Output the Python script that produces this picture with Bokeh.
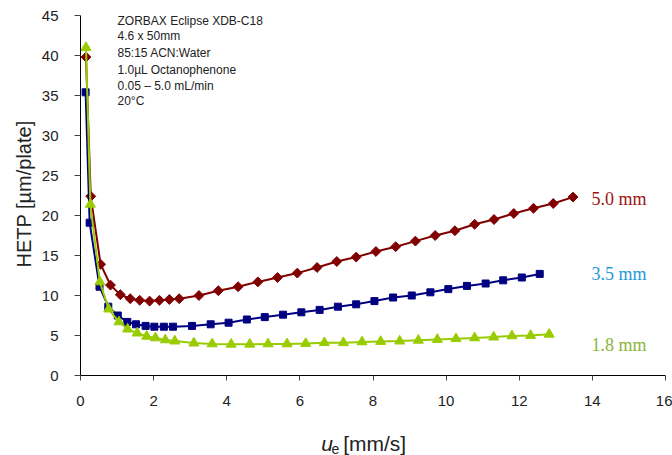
from bokeh.plotting import figure
from bokeh.models import Label, Range1d, FixedTicker
from bokeh.embed import file_html
from bokeh.resources import INLINE
import numpy as np

# --- data ---
x_50 = [0.15, 0.28, 0.55, 0.82, 1.09, 1.36, 1.62, 1.89, 2.16, 2.43, 2.70, 3.24, 3.77, 4.31,
        4.85, 5.39, 5.93, 6.47, 7.01, 7.54, 8.08, 8.62, 9.16, 9.70, 10.24, 10.78, 11.31,
        11.85, 12.39, 12.93, 13.47]
y_50 = [39.8, 22.4, 13.9, 11.3, 10.1, 9.6, 9.4, 9.3, 9.4, 9.5, 9.6, 10.0, 10.6, 11.1,
        11.7, 12.25, 12.8, 13.5, 14.25, 14.8, 15.5, 16.1, 16.8, 17.5, 18.1, 18.9, 19.5,
        20.25, 20.9, 21.5, 22.3]

x_35 = [0.14, 0.25, 0.52, 0.76, 1.02, 1.28, 1.52, 1.78, 2.02, 2.28, 2.53, 3.05, 3.56, 4.05,
        4.55, 5.04, 5.54, 6.04, 6.54, 7.04, 7.54, 8.04, 8.55, 9.06, 9.57, 10.06, 10.57,
        11.08, 11.56, 12.07, 12.56]
y_35 = [35.4, 19.1, 11.1, 8.6, 7.5, 6.7, 6.4, 6.2, 6.1, 6.1, 6.1, 6.2, 6.4, 6.6,
        7.0, 7.3, 7.6, 7.9, 8.2, 8.6, 8.9, 9.3, 9.75, 10.0, 10.4, 10.8, 11.2,
        11.5, 11.9, 12.25, 12.7]

x_18 = [0.15, 0.27, 0.53, 0.77, 1.05, 1.29, 1.55, 1.81, 2.05, 2.32, 2.58, 3.10, 3.60, 4.12,
        4.63, 5.13, 5.65, 6.16, 6.67, 7.19, 7.70, 8.21, 8.73, 9.24, 9.76, 10.27, 10.78,
        11.30, 11.80, 12.31, 12.82]
y_18 = [41.0, 21.4, 11.7, 8.3, 6.7, 5.8, 5.3, 4.9, 4.7, 4.45, 4.3, 4.05, 3.95, 3.9,
        3.9, 3.95, 3.95, 4.0, 4.1, 4.1, 4.2, 4.25, 4.3, 4.4, 4.5, 4.6, 4.7,
        4.8, 4.95, 5.0, 5.15]

series_names = ["5.0 mm", "3.5 mm", "1.8 mm"]
x_ticks = [0, 2, 4, 6, 8, 10, 12, 14, 16]
y_ticks = [0, 5, 10, 15, 20, 25, 30, 35, 40, 45]
note_lines = ["ZORBAX Eclipse XDB-C18", "4.6 x 50mm", "85:15 ACN:Water",
              "1.0\u00b5L Octanophenone", "0.05 \u2013 5.0 mL/min", "20\u00b0C"]

SANS = "Liberation Sans, Arial, sans-serif"
SERIF = "Liberation Serif, Times New Roman, serif"
TXT = "#222222"

# the frame fills the whole canvas; axes are pinned at 0 so that every text stays inside it
W, H = 672, 455
X0PX, X1PX = 80.0, 665.0      # pixel positions of x=0 and x=16
Y0PX, Y1PX = 375.0, 15.0      # pixel positions of y=0 and y=45
sx = (X1PX - X0PX) / 16.0
sy = (Y0PX - Y1PX) / 45.0
x_lo, x_hi = -X0PX / sx, 16 + (W - X1PX) / sx
y_lo, y_hi = -(H - Y0PX) / sy, 45 + Y1PX / sy

def dx(px):
    return (px - X0PX) / sx

def dy(px):
    return (Y0PX - px) / sy

p = figure(width=W, height=H, output_backend="svg", toolbar_location=None,
           x_range=Range1d(x_lo, x_hi), y_range=Range1d(y_lo, y_hi),
           min_border_left=0, min_border_right=0, min_border_top=0, min_border_bottom=0)
p.outline_line_color = None
p.xgrid.visible = False
p.ygrid.visible = False
p.background_fill_color = "white"
p.border_fill_color = "white"

for ax in (p.xaxis, p.yaxis):
    ax.fixed_location = 0
    ax.axis_line_color = "black"
    ax.axis_line_width = 1
    ax.major_tick_line_color = "#444444"
    ax.major_tick_in = 0
    ax.minor_tick_line_color = None
    ax.major_label_text_font = SANS
    ax.major_label_text_font_size = "15px"
    ax.major_label_text_color = TXT

p.xaxis.bounds = (0, 16)
p.yaxis.bounds = (0, 45)
p.xaxis.ticker = FixedTicker(ticks=x_ticks)
p.yaxis.ticker = FixedTicker(ticks=y_ticks)
p.xaxis.major_tick_out = 5
p.yaxis.major_tick_out = 6
p.xaxis.major_label_standoff = 15
p.yaxis.major_label_standoff = 16

# series
red, blue, green = "#800000", "#000080", "#99CC00"
p.line(x_50, y_50, line_color=red, line_width=2)
p.scatter(x_50, y_50, marker="square", size=7, angle=np.pi / 4, fill_color=red, line_color=red)
p.line(x_35, y_35, line_color=blue, line_width=2)
p.scatter(x_35, y_35, marker="square", size=7, fill_color=blue, line_color=blue)
p.line(x_18, y_18, line_color=green, line_width=2)
p.scatter(x_18, y_18, marker="triangle", size=10, fill_color=green, line_color=green)

# right-hand labels
lab_cols = ["#9B1414", "#1E9AD6", "#8CB43A"]
lab_y_px = [198.3, 273.3, 344.3]
for name, c, ypx in zip(series_names, lab_cols, lab_y_px):
    p.add_layout(Label(x=dx(591), y=dy(ypx), text=name, text_color=c, text_font=SERIF,
                       text_font_size="18px", text_baseline="middle", text_align="left"))

# note text
note_y_px = [20.7, 35.7, 52.3, 69.0, 85.0, 100.0]
for t, ypx in zip(note_lines, note_y_px):
    p.add_layout(Label(x=dx(117), y=dy(ypx), text=t, text_color=TXT,
                       text_font=SANS, text_font_size="12px", text_baseline="middle",
                       text_align="left"))

# y axis label
p.add_layout(Label(x=dx(23), y=dy(193.5), text="HETP [\u00b5m/plate]", angle=np.pi / 2,
                   text_font=SANS, text_font_size="20px", text_color=TXT,
                   text_align="center", text_baseline="middle"))

# x axis label: u_e [mm/s]
p.add_layout(Label(x=dx(320.7), y=dy(443), text="u", text_font=SANS, text_font_size="21px",
                   text_font_style="italic", text_color=TXT, text_baseline="alphabetic"))
p.add_layout(Label(x=dx(331), y=dy(448), text="e", text_font=SANS, text_font_size="14px",
                   text_color=TXT, text_baseline="alphabetic"))
p.add_layout(Label(x=dx(342.7), y=dy(443), text="[mm/s]", text_font=SANS, text_font_size="21px",
                   text_color=TXT, text_baseline="alphabetic"))

open("out.html", "w").write(file_html(p, INLINE))
